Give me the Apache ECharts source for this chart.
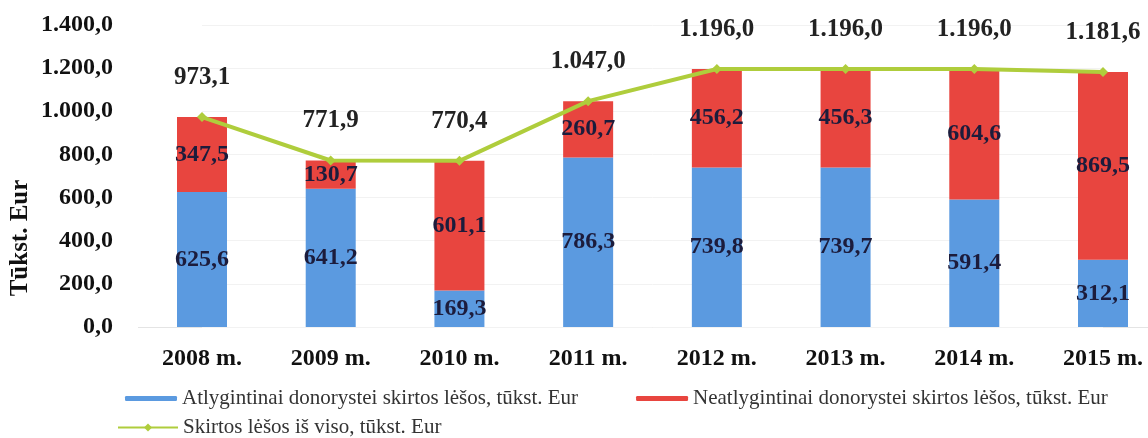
<!DOCTYPE html>
<html>
<head>
<meta charset="utf-8">
<script src="https://cdn.jsdelivr.net/npm/echarts@6/dist/echarts.min.js"></script>
<style>
  html, body { margin: 0; padding: 0; background: #fff; }
  #chart { width: 1148px; height: 438px; }
</style>
</head>
<body>
<div id="chart"></div>
<script>
const years = ["2008 m.", "2009 m.", "2010 m.", "2011 m.", "2012 m.", "2013 m.", "2014 m.", "2015 m."];
const atlygintinai = [625.6, 641.2, 169.3, 786.3, 739.8, 739.7, 591.4, 312.1];
const neatlygintinai = [347.5, 130.7, 601.1, 260.7, 456.2, 456.3, 604.6, 869.5];
const isViso = [973.1, 771.9, 770.4, 1047.0, 1196.0, 1196.0, 1196.0, 1181.6];

const serif = "Liberation Serif";

function fmt(v) {
  let parts = v.toFixed(1).split(".");
  let whole = parts[0].replace(/\B(?=(\d{3})+(?!\d))/g, ".");
  return whole + "," + parts[1];
}

const chart = echarts.init(document.getElementById("chart"));

const barLabel = {
  show: true,
  position: "inside",
  fontFamily: serif,
  fontWeight: "bold",
  fontSize: 24,
  color: "#1c1c3c",
  formatter: (p) => fmt(p.value),
};

// the picture is cut at the right, so the first and last categories sit on the grid edges
chart.setOption({
  animation: false,
  grid: { left: 202, right: 45, top: 25, bottom: 111 },
  graphic: [
    {
      type: "text",
      x: 8,
      y: 238,
      rotation: Math.PI / 2,
      style: {
        text: "Tūkst. Eur",
        fontFamily: serif,
        fontWeight: "bold",
        fontSize: 25,
        fill: "#111",
        align: "center",
        verticalAlign: "top",
      },
    },
    {
      type: "line",
      shape: { x1: 138, y1: 327.5, x2: 1148, y2: 327.5 },
      style: { stroke: "#e4e4e4", lineWidth: 1 },
    },
  ],
  legend: [
    {
      data: ["Atlygintinai donorystei skirtos lėšos, tūkst. Eur", "Neatlygintinai donorystei skirtos lėšos, tūkst. Eur"],
      left: 120,
      top: 383,
      itemWidth: 52,
      itemHeight: 5,
      itemGap: 58,
      textStyle: { fontFamily: serif, fontSize: 21, color: "#333" },
    },
    {
      data: ["Skirtos lėšos iš viso, tūkst. Eur"],
      left: 112,
      top: 412,
      itemWidth: 60,
      itemHeight: 10,
      textStyle: { fontFamily: serif, fontSize: 21, color: "#333" },
    },
  ],
  xAxis: {
    type: "category",
    data: years,
    boundaryGap: false,
    axisTick: { show: false },
    axisLine: { show: false },
    axisLabel: {
      fontFamily: serif,
      fontWeight: "bold",
      fontSize: 24,
      color: "#111",
      margin: 20,
    },
  },
  yAxis: {
    type: "value",
    min: 0,
    max: 1400,
    interval: 200,
    axisLine: { show: false },
    axisTick: { show: false },
    splitLine: { lineStyle: { color: "#f2f2f2" } },
    axisLabel: {
      fontFamily: serif,
      fontWeight: "bold",
      fontSize: 24,
      color: "#111",
      margin: 89,
      formatter: (v) => fmt(v),
    },
  },
  series: [
    {
      name: "Atlygintinai donorystei skirtos lėšos, tūkst. Eur",
      type: "bar",
      stack: "total",
      barWidth: 50,
      data: atlygintinai,
      itemStyle: { color: "#5b9ae0" },
      label: barLabel,
    },
    {
      name: "Neatlygintinai donorystei skirtos lėšos, tūkst. Eur",
      type: "bar",
      stack: "total",
      barWidth: 50,
      data: neatlygintinai,
      itemStyle: { color: "#e8453f" },
      label: barLabel,
    },
    {
      name: "Skirtos lėšos iš viso, tūkst. Eur",
      type: "line",
      data: isViso,
      symbol: "diamond",
      symbolSize: 10,
      lineStyle: { color: "#afcd3c", width: 4 },
      itemStyle: { color: "#afcd3c" },
      label: {
        show: true,
        position: "top",
        distance: 22,
        fontFamily: serif,
        fontWeight: "bold",
        fontSize: 25,
        color: "#222",
        formatter: (p) => fmt(p.value),
      },
    },
  ],
});
</script>
</body>
</html>
